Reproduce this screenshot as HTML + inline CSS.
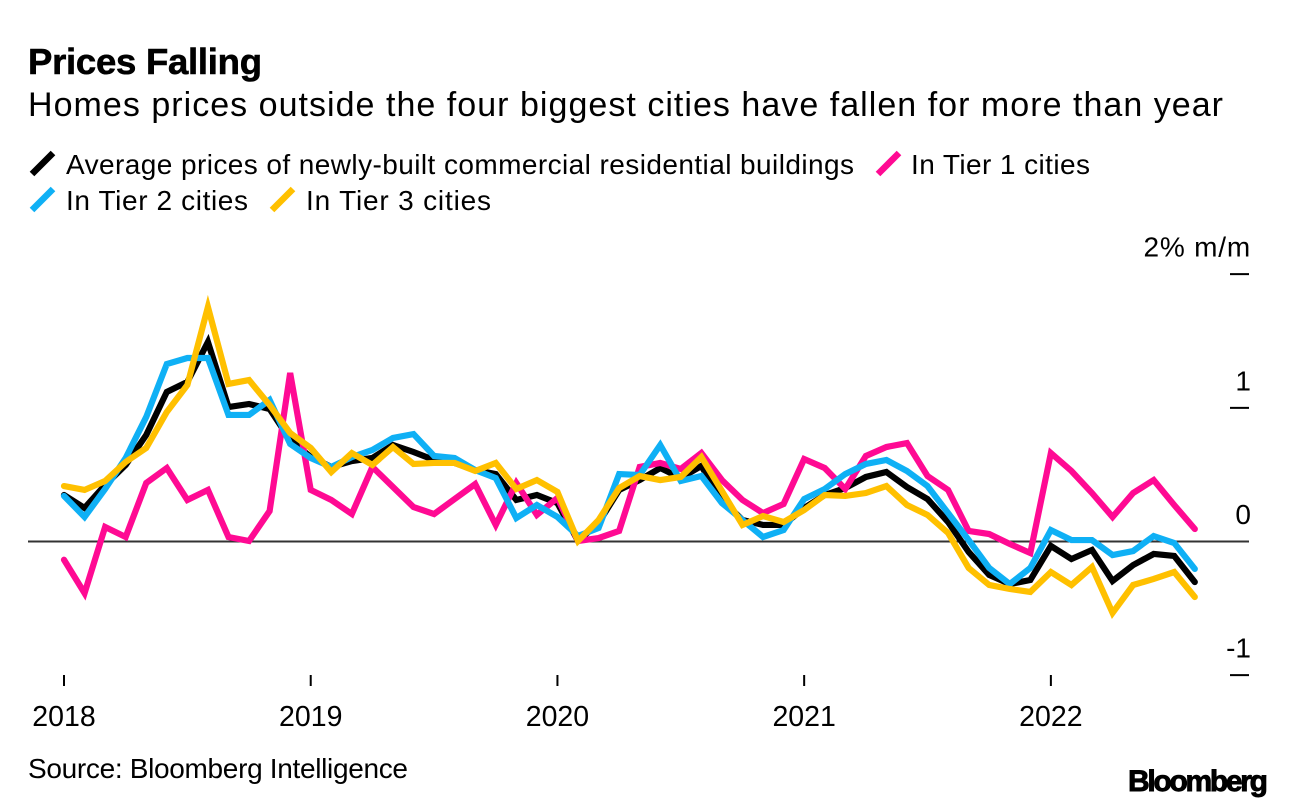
<!DOCTYPE html>
<html lang="en">
<head>
<meta charset="utf-8">
<title>Prices Falling</title>
<style>
html,body{margin:0;padding:0;background:#fff;width:1296px;height:808px;overflow:hidden}
svg{display:block}
text{font-family:"Liberation Sans",Arial,sans-serif;fill:#000}
</style>
</head>
<body>
<svg id="chart" xmlns="http://www.w3.org/2000/svg" width="1296" height="808" viewBox="0 0 1296 808">
  <rect x="0" y="0" width="1296" height="808" fill="#fff"/>
  <text x="28" y="74" font-size="36.5" font-weight="700" stroke="#000" stroke-width="0.6" textLength="234" lengthAdjust="spacing">Prices Falling</text>
  <text x="28" y="116" font-size="34" textLength="1195" lengthAdjust="spacing">Homes prices outside the four biggest cities have fallen for more than year</text>

  <g>
    <g>
      <line x1="32" y1="174" x2="53" y2="153" stroke="#000" stroke-width="6.5"/>
      <text x="66" y="174" font-size="28" textLength="788" lengthAdjust="spacing">Average prices of newly-built commercial residential buildings</text>
    </g>
    <g>
      <line x1="878" y1="174" x2="899" y2="153" stroke="#ff0a93" stroke-width="6.5"/>
      <text x="911" y="174" font-size="28" textLength="179" lengthAdjust="spacing">In Tier 1 cities</text>
    </g>
    <g>
      <line x1="32" y1="210" x2="53" y2="189" stroke="#0fb0f5" stroke-width="6.5"/>
      <text x="66" y="210" font-size="28" textLength="182" lengthAdjust="spacing">In Tier 2 cities</text>
    </g>
    <g>
      <line x1="272" y1="210" x2="293" y2="189" stroke="#ffc000" stroke-width="6.5"/>
      <text x="306" y="210" font-size="28" textLength="185" lengthAdjust="spacing">In Tier 3 cities</text>
    </g>
  </g>

  <g id="y-axis"></g>
  <g id="x-axis"></g>
  <g id="series"></g>

  <text x="28" y="778" font-size="28" textLength="380" lengthAdjust="spacing">Source: Bloomberg Intelligence</text>
  <text x="1128" y="791" font-size="30" font-weight="700" stroke="#000" stroke-width="0.9" textLength="140" lengthAdjust="spacing">Bloomberg</text>
</svg>
<script>
const average = [0.344,0.247,0.419,0.569,0.793,1.115,1.19,1.489,1.002,1.025,0.988,0.756,0.628,0.554,0.598,0.621,0.718,0.666,0.606,0.584,0.531,0.501,0.307,0.344,0.284,0,0.135,0.382,0.456,0.546,0.471,0.561,0.307,0.157,0.12,0.12,0.247,0.344,0.396,0.479,0.516,0.404,0.314,0.142,-0.082,-0.254,-0.322,-0.292,-0.037,-0.135,-0.067,-0.299,-0.18,-0.097,-0.112,-0.307];
const tier1 = [-0.14,-0.39,0.105,0.03,0.434,0.546,0.307,0.382,0.03,0,0.224,1.257,0.382,0.307,0.202,0.554,0.404,0.254,0.202,0.314,0.426,0.12,0.434,0.195,0.322,0,0.022,0.075,0.554,0.584,0.539,0.658,0.456,0.307,0.209,0.277,0.613,0.546,0.389,0.636,0.703,0.733,0.486,0.382,0.075,0.052,-0.022,-0.09,0.658,0.524,0.359,0.18,0.359,0.456,0.269,0.09];
const tier2 = [0.337,0.18,0.389,0.621,0.928,1.324,1.369,1.369,0.943,0.943,1.055,0.726,0.621,0.554,0.628,0.681,0.771,0.8,0.636,0.621,0.531,0.471,0.172,0.269,0.18,0.037,0.097,0.501,0.494,0.718,0.449,0.486,0.284,0.157,0.03,0.082,0.314,0.389,0.501,0.576,0.606,0.524,0.411,0.209,0.007,-0.202,-0.322,-0.202,0.082,0.007,0.007,-0.105,-0.075,0.037,-0.015,-0.209];
const tier3 = [0.411,0.382,0.449,0.591,0.696,0.965,1.167,1.751,1.175,1.204,1.017,0.808,0.696,0.516,0.658,0.569,0.703,0.576,0.584,0.584,0.524,0.584,0.389,0.456,0.367,0,0.157,0.396,0.486,0.456,0.479,0.628,0.374,0.12,0.187,0.142,0.232,0.344,0.337,0.359,0.411,0.269,0.195,0.06,-0.202,-0.329,-0.359,-0.381,-0.232,-0.329,-0.195,-0.538,-0.329,-0.284,-0.232,-0.419];
const yTickValues = [2,1,0,-1];
const yTickLabels = ["2% m/m","1","0","-1"];
const xTickMonths = [0,12,24,36,48];
const xTickLabels = ["2018","2019","2020","2021","2022"];

const SVG_NS = "http://www.w3.org/2000/svg";
function xScale(month){ return 64 + month * 20.56; }
function yScale(value){ return 541 - value * 133.67; }

const yAxisGroup = document.getElementById("y-axis");
yTickValues.forEach(function(value, i){
  const tick = document.createElementNS(SVG_NS, "line");
  
  
  const isZero = value === 0;
  tick.setAttribute("x1", isZero ? 28 : 1230);
  tick.setAttribute("x2", 1249);
  tick.setAttribute("y1", yScale(value) + 0.5);
  tick.setAttribute("y2", yScale(value) + 0.5);
  tick.setAttribute("stroke", isZero ? "#333" : "#000");
  tick.setAttribute("stroke-width", 2);
  yAxisGroup.appendChild(tick);
  const label = document.createElementNS(SVG_NS, "text");
  
  
  label.setAttribute("x", 1251);
  label.setAttribute("y", yScale(value) - 17);
  label.setAttribute("font-size", 28);
  label.setAttribute("text-anchor", "end");
  label.setAttribute("letter-spacing", yTickLabels[i].length > 2 ? 0.8 : 0);
  label.textContent = yTickLabels[i];
  yAxisGroup.appendChild(label);
});

const xAxisGroup = document.getElementById("x-axis");
xTickMonths.forEach(function(month, i){
  const tick = document.createElementNS(SVG_NS, "line");
  
  
  tick.setAttribute("x1", xScale(month));
  tick.setAttribute("x2", xScale(month));
  tick.setAttribute("y1", 675);
  tick.setAttribute("y2", 686);
  tick.setAttribute("stroke", "#000");
  tick.setAttribute("stroke-width", 2);
  xAxisGroup.appendChild(tick);
  const label = document.createElementNS(SVG_NS, "text");
  
  
  label.setAttribute("x", xScale(month));
  label.setAttribute("y", 726);
  label.setAttribute("font-size", 28.5);
  label.setAttribute("text-anchor", "middle");
  label.textContent = xTickLabels[i];
  xAxisGroup.appendChild(label);
});

function linePath(values){
  return values.map(function(value, i){
    return (i ? "L" : "M") + xScale(i).toFixed(2) + " " + yScale(value).toFixed(2);
  }).join("");
}

const seriesGroup = document.getElementById("series");

const averageLine = document.createElementNS(SVG_NS, "path");


averageLine.setAttribute("d", linePath(average));
averageLine.setAttribute("stroke", "#000");
seriesGroup.appendChild(averageLine);

const tier1Line = document.createElementNS(SVG_NS, "path");


tier1Line.setAttribute("d", linePath(tier1));
tier1Line.setAttribute("stroke", "#ff0a93");
seriesGroup.appendChild(tier1Line);

const tier2Line = document.createElementNS(SVG_NS, "path");


tier2Line.setAttribute("d", linePath(tier2));
tier2Line.setAttribute("stroke", "#0fb0f5");
seriesGroup.appendChild(tier2Line);

const tier3Line = document.createElementNS(SVG_NS, "path");


tier3Line.setAttribute("d", linePath(tier3));
tier3Line.setAttribute("stroke", "#ffc000");
seriesGroup.appendChild(tier3Line);

[averageLine, tier1Line, tier2Line, tier3Line].forEach(function(path){
  path.setAttribute("fill", "none");
  path.setAttribute("stroke-width", 6.2);
  path.setAttribute("stroke-linejoin", "miter");
  path.setAttribute("stroke-linecap", "round");
});
</script>
</body>
</html>
